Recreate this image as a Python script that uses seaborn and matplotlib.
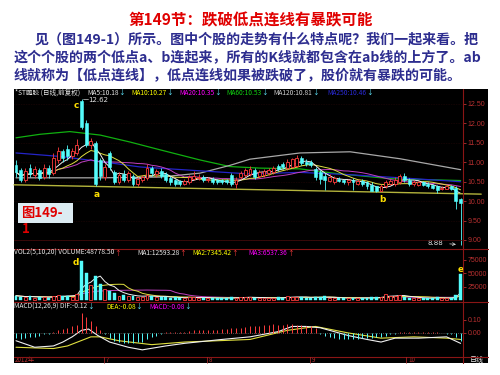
import numpy as np
import pandas as pd
import matplotlib
matplotlib.use("Agg")
import matplotlib.pyplot as plt
import seaborn as sns
from matplotlib.patches import Rectangle
from matplotlib.lines import Line2D

# ---------------- data ----------------
opens = [10.93,10.80,10.55,10.85,10.68,10.80,10.62,10.85,10.72,11.05,
         11.28,11.35,11.15,11.25,12.58,12.00,11.45,11.50,11.05,10.62,
         11.25,10.75,10.50,10.70,10.55,10.65,10.45,10.55,10.60,10.85,
         10.70,10.78,10.70,10.60,10.55,10.52,10.45,10.50,10.58,10.60,
         10.62,10.55,10.58,10.55,10.55,10.55,10.68,10.45,10.62,10.68,
         10.70,10.80,10.65,10.68,10.72,10.75,10.90,10.95,10.85,10.88,
         10.90,11.10,11.02,11.00,10.82,10.75,10.65,10.52,10.50,10.58,
         10.55,10.48,10.55,10.45,10.52,10.48,10.42,10.38,10.25,10.38,
         10.45,10.45,10.48,10.65,10.55,10.45,10.42,10.48,10.45,10.42,
         10.38,10.30,10.32,10.38,10.35,10.05]
closes = [10.75,10.55,10.78,10.70,10.82,10.60,10.85,10.70,11.10,11.30,
          11.10,11.15,11.30,11.45,11.92,11.45,11.55,10.45,10.65,10.88,
          10.88,10.50,10.68,10.55,10.72,10.45,10.58,10.62,10.85,10.72,
          10.78,10.65,10.55,10.48,10.45,10.45,10.52,10.62,10.65,10.62,
          10.55,10.58,10.48,10.50,10.48,10.48,10.45,10.55,10.72,10.80,
          10.82,10.62,10.75,10.78,10.80,10.85,10.82,10.88,11.02,11.08,
          11.12,10.98,10.95,10.92,10.62,10.58,10.55,10.62,10.60,10.52,
          10.50,10.55,10.48,10.52,10.45,10.38,10.25,10.25,10.40,10.50,
          10.52,10.55,10.65,10.55,10.45,10.50,10.48,10.42,10.38,10.35,
          10.28,10.35,10.38,10.32,10.00,9.95]
highs = [11.05,10.85,10.85,10.95,10.90,10.85,10.95,10.92,11.25,11.40,
         11.35,11.45,11.38,11.60,12.62,12.10,11.62,11.55,11.10,10.95,
         11.30,10.80,10.75,10.80,10.78,10.70,10.62,10.68,10.95,10.90,
         10.82,10.85,10.75,10.65,10.58,10.55,10.58,10.68,10.78,10.70,
         10.66,10.62,10.62,10.58,10.58,10.58,10.72,10.62,10.78,10.85,
         10.90,10.85,10.80,10.82,10.85,10.90,10.95,11.00,11.08,11.12,
         11.18,11.15,11.08,11.05,10.88,10.80,10.72,10.70,10.65,10.62,
         10.58,10.58,10.60,10.56,10.56,10.52,10.48,10.40,10.45,10.55,
         10.58,10.62,10.70,10.72,10.60,10.55,10.52,10.52,10.48,10.45,
         10.42,10.38,10.42,10.42,10.40,10.08]
lows = [10.62,10.48,10.50,10.62,10.60,10.55,10.58,10.60,10.68,10.98,
        11.02,11.05,11.08,11.20,11.85,11.40,11.35,10.39,10.55,10.55,
        10.80,10.45,10.45,10.50,10.48,10.40,10.40,10.50,10.55,10.65,
        10.62,10.60,10.50,10.42,10.38,10.40,10.42,10.45,10.55,10.55,
        10.50,10.50,10.45,10.45,10.44,10.44,10.40,10.33,10.58,10.62,
        10.65,10.58,10.60,10.62,10.68,10.70,10.78,10.82,10.80,10.85,
        10.88,10.92,10.90,10.88,10.55,10.45,10.29,10.48,10.45,10.48,
        10.45,10.42,10.28,10.42,10.40,10.32,10.25,10.24,10.25,10.35,
        10.42,10.40,10.45,10.50,10.40,10.40,10.38,10.38,10.35,10.30,
        10.22,10.28,10.30,10.28,9.80,8.88]
volumes = [9000,7000,6000,8000,5000,7000,6000,5000,9000,11000,
           8000,9000,7000,12000,73000,50000,28000,45000,30000,22000,
           18000,14000,9000,10000,8000,9000,7000,6000,11000,8000,
           6000,7000,6000,5000,6000,4000,5000,6000,7000,5000,
           4000,5000,4000,5000,4000,4000,6000,5000,6000,7000,
           6000,5000,4000,5000,4000,5000,6000,5000,8000,7000,
           7000,6000,5000,5000,7000,6000,8000,5000,4000,4000,
           4000,5000,5000,4000,4000,5000,6000,6000,7000,12000,
           9000,8000,10000,7000,5000,4000,4000,4000,4000,5000,
           6000,4000,4000,4000,11000,48779]
macd_hist = [-0.04,-0.05,-0.04,-0.03,-0.03,-0.02,-0.01,-0.01,0.01,0.02,
             0.03,0.04,0.05,0.06,0.15,0.12,0.09,0.05,0.02,-0.01,
             -0.04,-0.06,-0.07,-0.08,-0.08,-0.08,-0.07,-0.07,-0.05,-0.03,
             -0.02,-0.01,0.005,0.01,0.01,0.01,0.01,0.015,0.02,0.02,
             0.02,0.02,0.025,0.025,0.03,0.03,0.035,0.04,0.04,0.045,
             0.05,0.05,0.055,0.06,0.06,0.065,0.06,0.06,0.065,0.065,
             0.06,0.06,0.055,0.05,0.04,-0.01,-0.02,-0.03,-0.04,-0.05,
             -0.05,-0.05,-0.05,-0.05,-0.04,-0.04,-0.04,-0.03,-0.03,-0.02,
             -0.01,-0.005,0.005,0.01,0.01,0.01,0.01,0.005,0.005,0.005,
             0.005,0.0,-0.005,-0.01,-0.03,-0.06]
dif_idx = [0,4,8,10,12,14,15.5,17.5,20,24,27,32,36,44,50,56,59,62,65,68,71,75,78,81,86,92,95]
dif_val = [-0.06,-0.11,-0.10,-0.07,-0.03,0.02,0.03,-0.02,-0.07,-0.11,-0.13,-0.10,-0.08,-0.05,
           -0.03,0.01,0.05,0.05,0.04,0.01,-0.02,-0.05,-0.07,-0.04,-0.04,-0.03,-0.08]
dea_idx = [0,8,11,16,18,22,29,36,50,58,64,71,78,85,92,95]
dea_val = [-0.11,-0.12,-0.10,-0.03,-0.03,-0.06,-0.09,-0.07,-0.05,0.02,0.05,0.0,-0.04,-0.03,-0.04,-0.05]
ma60_idx = [0,5.1,11.5,18,24.4,30.8,39.3,45.7,52.1,60.7,69.2,79.9,88.5,95]
ma60_val = [11.63,11.72,11.79,11.70,11.52,11.32,11.06,10.89,10.85,10.83,10.70,10.58,10.55,10.53]
ma120_idx = [0,18,30.8,39.3,45.7,50,60.7,71.4,82.1,95]
ma120_val = [10.60,10.60,10.62,10.72,10.92,11.08,11.24,11.27,11.09,10.81]
ma250_idx = [0,9.4,18,26.5,39.3,50,60.7,71.4,82.1,95]
ma250_val = [11.24,11.15,11.02,10.88,10.78,10.70,10.74,10.68,10.60,10.50]
trend_idx = [-0.43, 99.4]
trend_val = [10.42, 10.18]
price_ticks = [9.00, 9.50, 10.00, 10.50, 11.00, 11.50, 12.00, 12.50]
vol_ticks = [25000, 50000, 75000]
macd_ticks = [0.00, 0.10]
month_labels = ["7", "8", "9", "10"]
month_pos = [106, 209, 312, 408]

title = "第149节：跌破低点连线有暴跌可能"
para = ["见（图149-1）所示。图中个股的走势有什么特点呢？我们一起来看。把",
        "这个个股的两个低点a、b连起来，所有的K线就都包含在ab线的上方了。ab",
        "线就称为【低点连线】，低点连线如果被跌破了，股价就有暴跌的可能。"]

# ---------------- style ----------------
sns.set_style("white")
FONTS = ["Noto Sans CJK SC", "DejaVu Sans"]
plt.rcParams["font.family"] = FONTS

RED = "#ff3c3c"
CYAN = "#54fcfc"
AXRED = "#b83030"
DIV = "#8a1515"
YEL = "#ffff00"
MAG = "#ff00ff"

W, H = 500, 375
fig = plt.figure(figsize=(5, 3.75), dpi=100, facecolor="white")

def fx(x): return x / W
def fy(y): return 1 - y / H
def rect(x0, y0, x1, y1): return [fx(x0), fy(y1), (x1 - x0) / W, (y1 - y0) / H]

fig.add_artist(Rectangle((fx(14), fy(363)), 474 / W, 274 / H, transform=fig.transFigure,
                         facecolor="black", edgecolor="none", zorder=-10))

N = len(closes)
x = np.arange(N)
o = np.array(opens); c = np.array(closes); h = np.array(highs); l = np.array(lows)
up = c >= o
XL = ((14 - 16) / 4.68, (463 - 16) / 4.68)

def setup(ax, ylim, ticks, fmt):
    ax.set_facecolor("none")
    ax.set_xlim(*XL)
    ax.set_ylim(*ylim)
    for s in ax.spines.values():
        s.set_visible(False)
    ax.set_xticks([])
    ax.yaxis.tick_right()
    ax.set_yticks(ticks)
    ax.set_yticklabels([fmt(t) for t in ticks], family=["Liberation Sans"])
    ax.tick_params(axis="y", colors=AXRED, labelsize=5, length=2.5, width=0.6, pad=1)

def finish(ax):
    ax.set_xlabel("")
    ax.set_ylabel("")

# ---- price panel ----
axp = fig.add_axes(rect(14, 89, 463, 249))
setup(axp, (8.768, 12.886), price_ticks, lambda t: f"{t:.2f}")
for t in price_ticks:
    axp.axhline(t, color="#3a0c0c", lw=0.4, ls=(0, (1, 2)), zorder=0)

sns.lineplot(x=ma60_idx, y=ma60_val, ax=axp, color="#10b010", lw=0.9, legend=False)
sns.lineplot(x=ma120_idx, y=ma120_val, ax=axp, color="#a8a8a8", lw=0.9, legend=False)
sns.lineplot(x=ma250_idx, y=ma250_val, ax=axp, color="#2424c8", lw=0.9, legend=False)
cs = pd.Series(c)
sns.lineplot(x=x, y=cs.rolling(20, min_periods=1).mean(), ax=axp, color="#c040c0", lw=0.7, legend=False)
sns.lineplot(x=x, y=cs.rolling(10, min_periods=1).mean(), ax=axp, color="#e0e040", lw=0.7, legend=False)
sns.lineplot(x=x, y=cs.rolling(5, min_periods=1).mean(), ax=axp, color="#f0f0f0", lw=0.7, legend=False)
axp.plot(trend_idx, trend_val, color="#b4b43c", lw=1.0, clip_on=False, zorder=3)

bw = 0.62
axp.vlines(x[~up], l[~up], h[~up], color=CYAN, lw=0.6, zorder=4)
axp.bar(x[~up], np.maximum(o[~up] - c[~up], 0.012), bottom=c[~up], width=bw,
        color=CYAN, edgecolor=CYAN, lw=0.4, zorder=5)
axp.vlines(x[up], l[up], o[up], color=RED, lw=0.6, zorder=4)
axp.vlines(x[up], c[up], h[up], color=RED, lw=0.6, zorder=4)
axp.bar(x[up], np.maximum(c[up] - o[up], 0.012), bottom=o[up], width=bw,
        facecolor="black", edgecolor=RED, lw=0.6, zorder=5)

lab = dict(color="#ffe000", fontsize=6.5, fontweight="bold", ha="center", va="center",
           family=["DejaVu Sans"], zorder=8)
axp.text(12.9, 12.47, "c", **lab)
axp.text(17.2, 10.16, "a", **lab)
axp.text(78.2, 10.05, "b", **lab)
axp.plot([14.3, 15.3], [12.62, 12.62], color="#d0d0d0", lw=0.5, zorder=6)
axp.text(15.4, 12.60, "12.62", color="#e0e0e0", fontsize=5, va="center", ha="left",
         family=["DejaVu Sans"])
axp.annotate("8.88", xy=(94.6, 8.88), xytext=(89.7, 8.93), color="#e0e0e0", fontsize=5,
             va="center", ha="center", family=["DejaVu Sans"],
             arrowprops=dict(arrowstyle="->", color="#e0e0e0", lw=0.5))
finish(axp)

# ---- volume panel ----
axv = fig.add_axes(rect(14, 249, 463, 302))
setup(axv, (-2780, 95370), vol_ticks, lambda t: f"{int(t)}")
v = np.array(volumes, dtype=float)
axv.bar(x[~up], v[~up], width=bw, color=CYAN, edgecolor=CYAN, lw=0.3, zorder=4)
axv.bar(x[up], v[up], width=bw, facecolor="black", edgecolor=RED, lw=0.6, zorder=4)
vs = pd.Series(v)
sns.lineplot(x=x, y=vs.rolling(20, min_periods=1).mean(), ax=axv, color="#c040c0", lw=0.7, legend=False)
sns.lineplot(x=x, y=vs.rolling(10, min_periods=1).mean(), ax=axv, color="#e0e040", lw=0.7, legend=False)
sns.lineplot(x=x, y=vs.rolling(5, min_periods=1).mean(), ax=axv, color="#f0f0f0", lw=0.7, legend=False)
axv.text(12.7, 70500, "d", **lab)
axv.text(95, 57500, "e", **lab)
finish(axv)

# ---- MACD panel ----
axm = fig.add_axes(rect(14, 302, 463, 357))
setup(axm, (-0.185, 0.238), macd_ticks, lambda t: f"{t:.2f}")
axm.axhline(0, color="#909090", lw=0.5, ls=(0, (1, 2)), zorder=1)
mh = np.array(macd_hist)
axm.vlines(x[mh >= 0], 0, mh[mh >= 0], color=RED, lw=0.7, zorder=3)
axm.vlines(x[mh < 0], 0, mh[mh < 0], color=CYAN, lw=0.7, zorder=3)
sns.lineplot(x=dea_idx, y=dea_val, ax=axm, color="#e0e040", lw=0.8, legend=False)
sns.lineplot(x=dif_idx, y=dif_val, ax=axm, color="#f0f0f0", lw=0.8, legend=False)
finish(axm)

# ---- frame lines ----
def fline(x0, y0, x1, y1, color=DIV, lw=0.8):
    fig.add_artist(Line2D([fx(x0), fx(x1)], [fy(y0), fy(y1)], transform=fig.transFigure,
                          color=color, lw=lw, zorder=6))
fline(463, 89, 463, 363)
for yy in (249, 302, 357):
    fline(14, yy, 488, yy)
fline(14, 240, 463, 240, color="#4a0c0c", lw=0.5)

# ---- header texts ----
renderer = fig.canvas.get_renderer()
def pieces(xp, yp, items, size=4.8):
    cur = xp
    for s, col in items:
        t = fig.text(fx(cur), fy(yp), s, color=col, fontsize=size, ha="left", va="center",
                     family=FONTS, zorder=7)
        bb = t.get_window_extent(renderer=renderer)
        cur += bb.width
    return cur

ARR_D = "#60e8ff"
pieces(15, 93, [("*ST鹏胶 (日线,前复权)", "#e8e8e8")])
pieces(87, 93, [("MA5:10.18", "#e8e8e8"), ("↓", ARR_D)])
pieces(131, 93, [("MA10:10.27", YEL), ("↓", ARR_D)])
pieces(179, 93, [("MA20:10.35", MAG), ("↓", ARR_D)])
pieces(226, 93, [("MA60:10.53", "#10d010"), ("↓", ARR_D)])
pieces(273, 93, [("MA120:10.81", "#d0d0d0"), ("↓", ARR_D)])
pieces(327, 93, [("MA250:10.46", "#2a2ad8"), ("↓", ARR_D)])

pieces(14, 253, [("VOL2(5,10,20) VOLUME:48778.50", "#e8e8e8"), ("↑", RED)])
pieces(137, 253, [("MA1:12593.28", "#e8e8e8"), ("↑", RED)])
pieces(192, 253, [("MA2:7345.42", YEL), ("↑", RED)])
pieces(248, 253, [("MA3:6537.36", MAG), ("↑", RED)])

pieces(14, 307, [("MACD(12,26,9) DIF:-0.12", "#e8e8e8"), ("↓", ARR_D)])
pieces(106, 307, [("DEA:-0.08", YEL), ("↓", ARR_D)])
pieces(149, 307, [("MACD:-0.08", MAG), ("↓", ARR_D)])

# ---- date bar ----
fig.text(fx(15), fy(360.5), "2012年", color=AXRED, fontsize=4.5, ha="left", va="center", family=FONTS)
for mp, ml in zip(month_pos, month_labels):
    fline(mp - 2, 357, mp - 2, 363, color=AXRED, lw=0.5)
    fig.text(fx(mp), fy(360.5), ml, color=AXRED, fontsize=4.5, ha="left", va="center", family=FONTS)
fig.text(fx(470), fy(360), "日线", color="#f0f0f0", fontsize=5, ha="left", va="center", family=FONTS)

# ---- figure label box ----
fig.add_artist(Rectangle((fx(18), fy(223)), 55 / W, 20 / H, transform=fig.transFigure,
                         facecolor="#dcebf2", edgecolor="none", zorder=8))
fig.text(fx(21), fy(213), "图149-", color="#e00000", fontsize=9.5, fontweight="bold",
         ha="left", va="center", family=FONTS, zorder=9)
fig.text(fx(22), fy(229), "1", color="#e00000", fontsize=9.5, fontweight="bold",
         ha="left", va="center", family=FONTS, zorder=9)

# ---- slide text ----
fig.text(fx(251), fy(20), title, color="#e00000", fontsize=11.2, fontweight="bold",
         ha="center", va="center", family=FONTS)
PC = "#2d2d8f"
fig.text(fx(35), fy(39), para[0], color=PC, fontsize=10.1, fontweight="bold", ha="left", va="center", family=FONTS)
fig.text(fx(14), fy(57), para[1], color=PC, fontsize=10.1, fontweight="bold", ha="left", va="center", family=FONTS)
fig.text(fx(14), fy(75), para[2], color=PC, fontsize=10.1, fontweight="bold", ha="left", va="center", family=FONTS)

fig.savefig("out.png", dpi=100, facecolor="white")
